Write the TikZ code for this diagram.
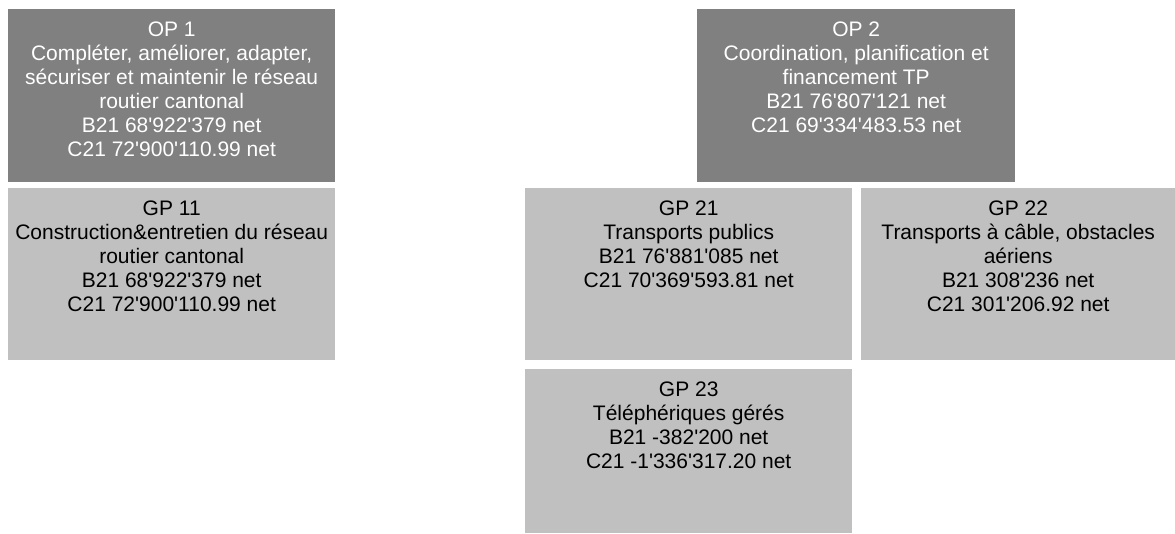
\documentclass[tikz,border=0pt]{standalone}
\usepackage{fontspec}
\setmainfont{Liberation Sans}[Ligatures=TeXOff]
\usepackage{tikz}
\usetikzlibrary{positioning}
\definecolor{opgray}{RGB}{128,128,128}
\definecolor{gpgray}{RGB}{192,192,192}
\tikzset{
  opbox/.style={fill=opgray, anchor=north west, inner sep=0pt, minimum height=173pt},
  gpbox/.style={fill=gpgray, anchor=north west, inner sep=0pt, minimum height=172pt},
  optext/.style={text=white, align=center, inner sep=0pt, font=\fontsize{21}{24}\selectfont},
  gptext/.style={text=black, align=center, inner sep=0pt, font=\fontsize{21}{24}\selectfont},
}

\begin{document}
\begin{tikzpicture}[x=1pt,y=1pt]
  \useasboundingbox (0,0) rectangle (1175,-533);

  % objectif 1 with its group
  \node[opbox, minimum width=327pt] (op1) at (8,-9) {};
  \node[optext, below=12.5pt of op1.north] (op1txt)
    {OP 1\\Compléter, améliorer, adapter,\\sécuriser et maintenir le réseau\\routier cantonal\\B21 68'922'379 net\\C21 72'900'110.99 net};
  \node[gpbox, minimum width=327pt] (gp11) at (8,-188) {};
  \node[gptext, below=12.5pt of gp11.north] (gp11txt)
    {GP 11\\Construction\&entretien du réseau\\routier cantonal\\B21 68'922'379 net\\C21 72'900'110.99 net};

  % objectif 2 with its groups
  \node[opbox, minimum width=318pt] (op2) at (697,-9) {};
  \node[optext, below=12.5pt of op2.north] (op2txt)
    {OP 2\\Coordination, planification et\\financement TP\\B21 76'807'121 net\\C21 69'334'483.53 net};
  \node[gpbox, minimum width=327pt] (gp21) at (525,-188) {};
  \node[gptext, below=12.5pt of gp21.north] (gp21txt)
    {GP 21\\Transports publics\\B21 76'881'085 net\\C21 70'369'593.81 net};
  \node[gpbox, minimum width=314pt] (gp22) at (861,-188) {};
  \node[gptext, below=12.5pt of gp22.north] (gp22txt)
    {GP 22\\Transports à câble, obstacles\\aériens\\B21 308'236 net\\C21 301'206.92 net};
  \node[gpbox, minimum width=327pt, minimum height=164pt] (gp23) at (525,-369) {};
  \node[gptext, below=12.5pt of gp23.north] (gp23txt)
    {GP 23\\Téléphériques gérés\\B21 -382'200 net\\C21 -1'336'317.20 net};
\end{tikzpicture}
\end{document}
